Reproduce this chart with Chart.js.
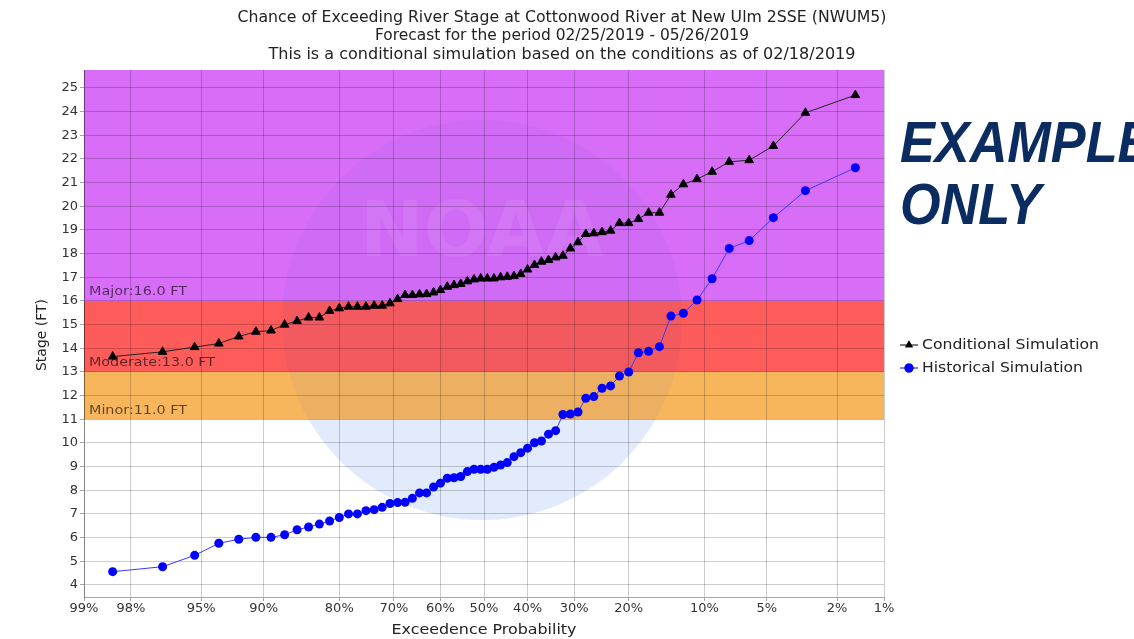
<!DOCTYPE html>
<html>
<head>
<meta charset="utf-8">
<script src="https://cdn.jsdelivr.net/npm/chart.js@4.4.1/dist/chart.umd.min.js"></script>
<style>
  html, body { margin: 0; padding: 0; background: #fff; }
  #contenedor { width: 1134px; height: 639px; }
</style>
</head>
<body>
<div id="contenedor"><canvas id="grafico" width="1134" height="639"></canvas></div>
<script>
// exceedance probability (%) of each ranked trace
var probabilidad = [
  98.46, 96.92, 95.38, 93.85, 92.31, 90.77, 89.23, 87.69, 86.15, 84.62,
  83.08, 81.54, 80.00, 78.46, 76.92, 75.38, 73.85, 72.31, 70.77, 69.23,
  67.69, 66.15, 64.62, 63.08, 61.54, 60.00, 58.46, 56.92, 55.38, 53.85,
  52.31, 50.77, 49.23, 47.69, 46.15, 44.62, 43.08, 41.54, 40.00, 38.46,
  36.92, 35.38, 33.85, 32.31, 30.77, 29.23, 27.69, 26.15, 24.62, 23.08,
  21.54, 20.00, 18.46, 16.92, 15.38, 13.85, 12.31, 10.77, 9.23, 7.69,
  6.15, 4.62, 3.08, 1.54
];
var simulacionCondicional = [
  13.65, 13.85, 14.05, 14.2, 14.5, 14.7, 14.75, 15.0, 15.15, 15.3,
  15.3, 15.58, 15.69, 15.76, 15.76, 15.76, 15.8, 15.8, 15.9, 16.08,
  16.25, 16.25, 16.28, 16.29, 16.36, 16.46, 16.6, 16.67, 16.72, 16.83,
  16.91, 16.95, 16.95, 16.95, 17.0, 17.02, 17.05, 17.14, 17.33, 17.52,
  17.66, 17.73, 17.84, 17.91, 18.22, 18.48, 18.83, 18.86, 18.91, 18.97,
  19.29, 19.29, 19.46, 19.73, 19.73, 20.49, 20.93, 21.15, 21.46, 21.88,
  21.95, 22.55, 23.95, 24.7
];
var simulacionHistorica = [
  4.56, 4.77, 5.25, 5.76, 5.93, 6.01, 6.01, 6.12, 6.33, 6.45,
  6.57, 6.7, 6.85, 7.0, 7.0, 7.14, 7.18, 7.28, 7.44, 7.48,
  7.49, 7.66, 7.89, 7.89, 8.14, 8.3, 8.51, 8.53, 8.58, 8.79,
  8.89, 8.89, 8.89, 8.97, 9.07, 9.17, 9.42, 9.59, 9.78, 10.01,
  10.08, 10.37, 10.52, 11.2, 11.22, 11.31, 11.89, 11.96, 12.31, 12.41,
  12.83, 13.0, 13.81, 13.87, 14.07, 15.36, 15.48, 16.04, 16.94, 18.22,
  18.55, 19.52, 20.66, 21.63
];
var ticksProbabilidad = [99, 98, 95, 90, 80, 70, 60, 50, 40, 30, 20, 10, 5, 2, 1];
var etiquetasX = ['99%', '98%', '95%', '90%', '80%', '70%', '60%', '50%', '40%', '30%', '20%', '10%', '5%', '2%', '1%'];
var ticksEtapa = [4, 5, 6, 7, 8, 9, 10, 11, 12, 13, 14, 15, 16, 17, 18, 19, 20, 21, 22, 23, 24, 25];
var nivelesNombre = ['Minor', 'Moderate', 'Major'];
var nivelesValor = [11, 13, 16];
var titulos = [
  'Chance of Exceeding River Stage at Cottonwood River at New Ulm 2SSE (NWUM5)',
  'Forecast for the period 02/25/2019 - 05/26/2019',
  'This is a conditional simulation based on the conditions as of 02/18/2019'
];

var coloresNivel = ['#f8b65c', '#fe5c5a', '#d86ef8'];
var etapaMin = 3.49, etapaMax = 25.76;

// inverse of the standard normal (Acklam)
function normInv(p) {
  var a = [-3.969683028665376e+01, 2.209460984245205e+02, -2.759285104469687e+02, 1.383577518672690e+02, -3.066479806614716e+01, 2.506628277459239e+00];
  var b = [-5.447609879822406e+01, 1.615858368580409e+02, -1.556989798598866e+02, 6.680131188771972e+01, -1.328068155288572e+01];
  var c = [-7.784894002430293e-03, -3.223964580411365e-01, -2.400758277161838e+00, -2.549732539343734e+00, 4.374664141464968e+00, 2.938163982698783e+00];
  var d = [7.784695709041462e-03, 3.224671290700398e-01, 2.445134137142996e+00, 3.754408661907416e+00];
  var q, r;
  if (p < 0.02425) {
    q = Math.sqrt(-2 * Math.log(p));
    return (((((c[0]*q+c[1])*q+c[2])*q+c[3])*q+c[4])*q+c[5]) / ((((d[0]*q+d[1])*q+d[2])*q+d[3])*q+1);
  }
  if (p <= 1 - 0.02425) {
    q = p - 0.5; r = q * q;
    return (((((a[0]*r+a[1])*r+a[2])*r+a[3])*r+a[4])*r+a[5])*q / (((((b[0]*r+b[1])*r+b[2])*r+b[3])*r+b[4])*r+1);
  }
  q = Math.sqrt(-2 * Math.log(1 - p));
  return -(((((c[0]*q+c[1])*q+c[2])*q+c[3])*q+c[4])*q+c[5]) / ((((d[0]*q+d[1])*q+d[2])*q+d[3])*q+1);
}
function posX(pct) { return normInv(1 - pct / 100); }

function puntos(serie) {
  return probabilidad.map(function (p, i) { return { x: posX(p), y: serie[i] }; });
}

// text squeezed/stretched to a given width, like the source image
function texto(ctx, cadena, x, y, fuente, ancho, alinear) {
  ctx.save();
  ctx.font = fuente;
  var w = ctx.measureText(cadena).width;
  var s = ancho ? ancho / w : 1;
  ctx.translate(x, y);
  ctx.scale(s, 1);
  ctx.textAlign = alinear || 'left';
  ctx.textBaseline = 'middle';
  ctx.fillText(cadena, 0, 0);
  ctx.restore();
}

var fondo = {
  id: 'fondo',
  beforeDraw: function (chart) {
    var ctx = chart.ctx, area = chart.chartArea, y = chart.scales.y;
    var ancho = area.right - area.left;
    var limite = y.getPixelForValue(nivelesValor[0]);
    ctx.save();
    ctx.fillStyle = '#ffffff';
    ctx.fillRect(0, 0, chart.width, chart.height);
    ctx.beginPath();
    ctx.rect(area.left, area.top, ancho, area.bottom - area.top);
    ctx.clip();
    for (var i = 0; i < nivelesValor.length; i++) {
      var arriba = i + 1 < nivelesValor.length ? y.getPixelForValue(nivelesValor[i + 1]) : area.top;
      var abajo = y.getPixelForValue(nivelesValor[i]);
      ctx.fillStyle = coloresNivel[i];
      ctx.fillRect(area.left, arriba, ancho, abajo - arriba);
    }
    // faint NOAA seal: light blue over white, barely visible over the bands
    ctx.save();
    ctx.beginPath();
    ctx.rect(area.left, limite, ancho, area.bottom - limite);
    ctx.clip();
    ctx.fillStyle = 'rgba(30,100,230,0.13)';
    ctx.beginPath();
    ctx.arc(482, 320, 200, 0, Math.PI * 2);
    ctx.fill();
    ctx.restore();
    ctx.save();
    ctx.beginPath();
    ctx.rect(area.left, area.top, ancho, limite - area.top);
    ctx.clip();
    ctx.fillStyle = 'rgba(40,60,200,0.05)';
    ctx.beginPath();
    ctx.arc(482, 320, 200, 0, Math.PI * 2);
    ctx.fill();
    ctx.restore();
    ctx.fillStyle = 'rgba(255,255,255,0.08)';
    ctx.font = 'bold 76px "DejaVu Sans"';
    ctx.textAlign = 'center';
    ctx.textBaseline = 'middle';
    ctx.fillText('NOAA', 482, 236);
    ctx.restore();
  },
  beforeDatasetsDraw: function (chart) {
    var ctx = chart.ctx, area = chart.chartArea, y = chart.scales.y;
    ctx.fillStyle = 'rgba(0,0,0,0.62)';
    var anchos = [98, 126, 98];
    for (var i = 0; i < nivelesValor.length; i++) {
      var etiqueta = nivelesNombre[i] + ':' + nivelesValor[i].toFixed(1) + ' FT';
      texto(ctx, etiqueta, area.left + 5, y.getPixelForValue(nivelesValor[i]) - 9, '13px "DejaVu Sans"', anchos[i]);
    }
  },
  afterDraw: function (chart) {
    var ctx = chart.ctx;
    ctx.fillStyle = '#222';
    var anchosTitulo = [649, 374, 587];
    for (var i = 0; i < titulos.length; i++) {
      texto(ctx, titulos[i], 562, 18 + i * 18.5, '15px "DejaVu Sans"', anchosTitulo[i], 'center');
    }
    texto(ctx, 'Exceedence Probability', 484, 630, '14px "DejaVu Sans"', 185, 'center');
    ctx.save();
    ctx.translate(42, 335);
    ctx.rotate(-Math.PI / 2);
    texto(ctx, 'Stage (FT)', 0, 0, '14px "DejaVu Sans"', 72, 'center');
    ctx.restore();

    // legend
    var filas = [
      { nombre: 'Conditional Simulation', color: '#000', forma: 'triangle', ancho: 177, y: 345 },
      { nombre: 'Historical Simulation', color: '#0000ff', forma: 'circle', ancho: 161, y: 368 }
    ];
    filas.forEach(function (f) {
      ctx.strokeStyle = f.color;
      ctx.lineWidth = 1;
      ctx.beginPath();
      ctx.moveTo(900, f.y);
      ctx.lineTo(918, f.y);
      ctx.stroke();
      ctx.fillStyle = f.color;
      Chart.helpers.drawPoint(ctx, { pointStyle: f.forma, radius: 4.5, borderWidth: 0 }, 909, f.y);
      ctx.fill();
      ctx.fillStyle = '#222';
      texto(ctx, f.nombre, 922, f.y, '14px "DejaVu Sans"', f.ancho);
    });

    ctx.fillStyle = '#0b2c61';
    ctx.save();
    ctx.translate(900, 0);
    ctx.scale(0.9, 1);
    ctx.font = 'italic bold 58px "Liberation Sans"';
    ctx.textAlign = 'left';
    ctx.textBaseline = 'alphabetic';
    ctx.fillText('EXAMPLE', 0, 162);
    ctx.fillText('ONLY', 0, 224);
    ctx.restore();
  }
};

var ctx = document.getElementById('grafico').getContext('2d');
var grafico = new Chart(ctx, {
  type: 'line',
  data: {
    datasets: [{
      label: 'Conditional Simulation',
      data: puntos(simulacionCondicional),
      borderColor: '#222',
      backgroundColor: '#000',
      pointBorderColor: '#000',
      borderWidth: 1,
      pointStyle: 'triangle',
      pointRadius: 5,
      pointBorderWidth: 1,
      tension: 0
    }, {
      label: 'Historical Simulation',
      data: puntos(simulacionHistorica),
      borderColor: '#3a3aff',
      backgroundColor: '#0000ff',
      pointBorderColor: '#0000ff',
      borderWidth: 1,
      pointStyle: 'circle',
      pointRadius: 4.5,
      pointBorderWidth: 0,
      tension: 0
    }]
  },
  options: {
    responsive: false,
    animation: false,
    events: [],
    layout: { padding: { top: 70, right: 250, bottom: 0, left: 0 } },
    plugins: { legend: { display: false }, tooltip: { enabled: false }, title: { display: false } },
    scales: {
      x: {
        type: 'linear',
        min: posX(99),
        max: posX(1),
        afterBuildTicks: function (eje) {
          eje.ticks = ticksProbabilidad.map(function (v) { return { value: posX(v) }; });
        },
        afterFit: function (eje) { eje.height = 42; },
        grid: { color: 'rgba(0,0,0,0.2)', tickLength: 4, tickColor: 'rgba(0,0,0,0.35)' },
        border: { color: 'rgba(0,0,0,0.35)' },
        ticks: {
          autoSkip: false, maxRotation: 0, padding: 0,
          color: '#333', font: { family: 'DejaVu Sans', size: 13 },
          callback: function (valor, indice) { return etiquetasX[indice]; }
        }
      },
      y: {
        type: 'linear',
        min: etapaMin,
        max: etapaMax,
        afterBuildTicks: function (eje) {
          eje.ticks = ticksEtapa.map(function (v) { return { value: v }; });
        },
        afterFit: function (eje) { eje.width = 84; },
        grid: { color: 'rgba(0,0,0,0.2)', tickLength: 4, tickColor: 'rgba(0,0,0,0.35)' },
        border: { color: 'rgba(0,0,0,0.35)' },
        ticks: {
          padding: 2, color: '#333', font: { family: 'DejaVu Sans', size: 13 },
          callback: function (valor) { return valor; }
        }
      }
    }
  },
  plugins: [fondo]
});
</script>
</body>
</html>
